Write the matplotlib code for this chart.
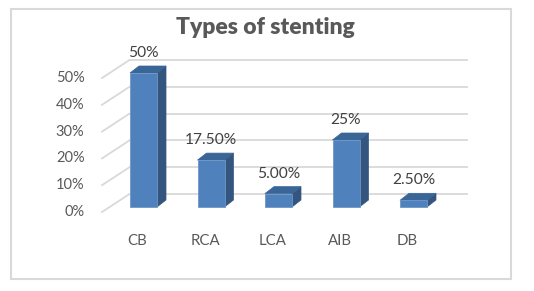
import matplotlib
matplotlib.use("Agg")
import matplotlib.pyplot as plt
from matplotlib.patches import Polygon, Rectangle

categories = ["CB", "RCA", "LCA", "AIB", "DB"]
values = [0.50, 0.175, 0.05, 0.25, 0.025]
value_labels = ["50%", "17.50%", "5.00%", "25%", "2.50%"]
ticks = [0.0, 0.1, 0.2, 0.3, 0.4, 0.5]
tick_labels = ["0%", "10%", "20%", "30%", "40%", "50%"]
title = "Types of stenting"

W, H = 534, 291
fig = plt.figure(figsize=(W / 100, H / 100), dpi=100)
ax = fig.add_axes([0, 0, 1, 1])
# pixel mapping: x_px = 143.5 + 67.5*x ; y_px(top) = 207 - 268*v
SX, SY = 67.5, 268.0
ax.set_xlim(-143.5 / SX, (W - 143.5) / SX)
ax.set_ylim(-(H - 207) / SY, 207 / SY)
ax.axis("off")
PX, PY = 1 / SX, 1 / SY

font = ["Lato", "DejaVu Sans"]
grid_c = "#D9D9D9"
front_c = "#4F81BD"
side_c = "#34557E"
top_c = "#3A6597"

bw = 0.4
ddx, ddy = 9 * PX, 7 * PY          # bar depth
back_dy = 13 * PY                  # back wall offset
front_dy = -5 * PY                 # floor front edge offset
wall_x0, wall_x1 = -14 * PX, 4 + 53.5 * PX
diag_x0 = -41.5 * PX

# back wall gridlines and left diagonals
for t in ticks:
    ax.plot([wall_x0, wall_x1], [t + back_dy, t + back_dy], color=grid_c, lw=1.3, zorder=1)
    ax.plot([diag_x0, wall_x0], [t + front_dy, t + back_dy], color=grid_c, lw=1.3, zorder=1)
for t, lab in zip(ticks, tick_labels):
    ax.text(-59 * PX, t + front_dy, lab, ha="right", va="center",
            fontsize=10.5, color="#595959", family=font)

# 3D bars
for i, (v, lab, cat) in enumerate(zip(values, value_labels, categories)):
    x0, x1 = i - bw / 2, i + bw / 2
    ax.add_patch(Polygon([(x1, 0), (x1 + ddx, ddy), (x1 + ddx, v + ddy), (x1, v)],
                         closed=True, facecolor=side_c, edgecolor=side_c, lw=0.5, zorder=3))
    ax.add_patch(Polygon([(x0, v), (x0 + ddx, v + ddy), (x1 + ddx, v + ddy), (x1, v)],
                         closed=True, facecolor=top_c, edgecolor=top_c, lw=0.5, zorder=3))
    ax.bar(i, v, width=bw, bottom=0, color=front_c, edgecolor="#6E97C8", lw=0.6, zorder=4)
    ax.text(i, v + 20 * PY, lab, ha="center", va="center", fontsize=11.2,
            color="#404040", family=font, zorder=5)
    ax.text(i - 6 * PX, -34 * PY, cat, ha="center", va="center", fontsize=10.8,
            color="#595959", family=font)

fig.text(265 / W, 1 - 28 / H, title, ha="center", va="center", fontsize=16.5,
         fontweight="heavy", color="#595959", family=font)
fig.patches.append(Rectangle((11 / W, 1 - 279 / H), 500 / W, 270 / H, transform=fig.transFigure,
                             fill=False, edgecolor=grid_c, lw=1.5))
fig.savefig("out.png", dpi=100)
